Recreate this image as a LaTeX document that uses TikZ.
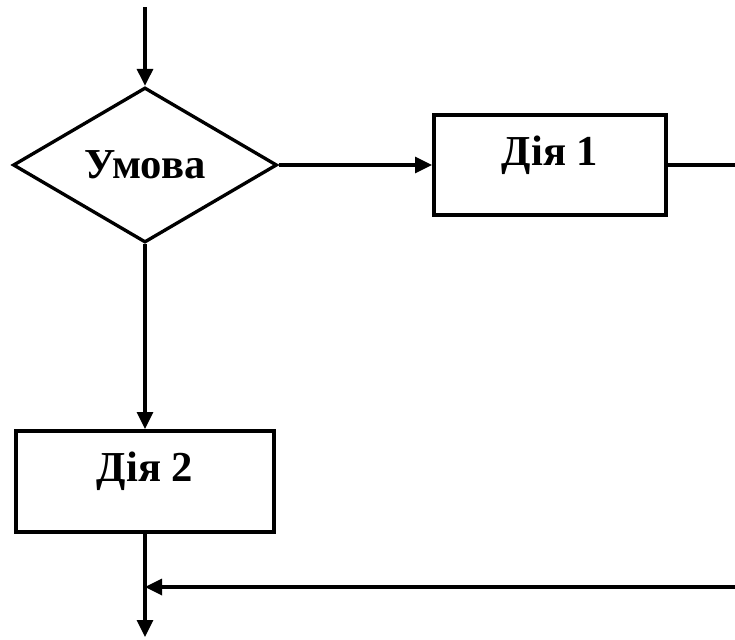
\documentclass[tikz,border=0pt]{standalone}
\usepackage{fontspec}
\setmainfont{Liberation Serif}
\usetikzlibrary{arrows.meta,shapes.geometric}
\begin{document}
\begin{tikzpicture}[x=0.75pt,y=-0.75pt,
  line/.style={line width=2.5pt},
  arr/.style={line, -{Triangle[length=12.75pt,width=12pt]}},
  box/.style={draw, line width=3pt, inner sep=0pt},
  lbl/.style={font=\fontsize{32}{36}\selectfont\bfseries, inner sep=0pt},
  cond/.style={draw, diamond, line width=2.5pt, inner sep=0pt, aspect=1.7, minimum width=198pt, minimum height=116.25pt, font=\fontsize{32}{36}\selectfont\bfseries}
]
\useasboundingbox (0,0) rectangle (735,639);
\node[cond] (c) at (145,165) {Умова};
\node[box, minimum width=174pt, minimum height=75pt] (a1) at (550,165) {};
\node[lbl, anchor=base] (t1) at (a1.center) {Дія 1};
\node[box, minimum width=193.5pt, minimum height=75.75pt] (a2) at (145,481.5) {};
\node[lbl, anchor=base] (t2) at (a2.center) {Дія 2};
\coordinate (start) at (145,7);
\coordinate (r1) at (735,165);
\coordinate (r2) at (735,587);
\coordinate (j) at (145,587);
\coordinate (end) at (145,637);
\draw[arr] (start) -- (c.north);
\draw[arr] (c.east) -- (a1.west);
\draw[line] (a1.east) -- (a1.east -| r1);
\draw[arr] (c.south) -- (a2.north);
\draw[arr] (a2.south) -- (end);
\draw[arr] (r2) -- (j);
\end{tikzpicture}
\end{document}
